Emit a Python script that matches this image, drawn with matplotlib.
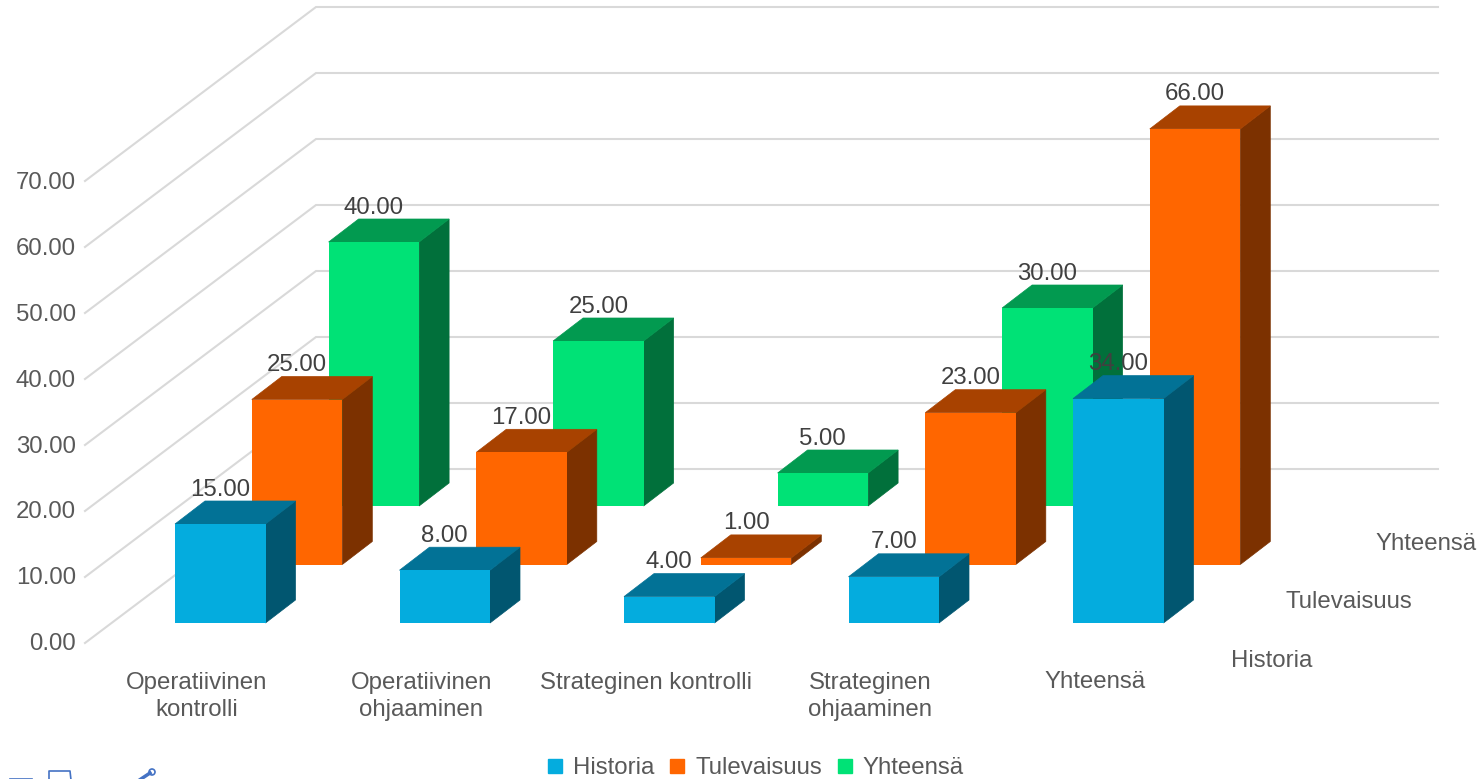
import matplotlib
matplotlib.use("Agg")
import matplotlib.pyplot as plt
from matplotlib.patches import Patch, Circle

plt.rcParams["font.family"] = ["Liberation Sans", "DejaVu Sans"]

categories = ["Operatiivinen\nkontrolli", "Operatiivinen\nohjaaminen", "Strateginen kontrolli",
              "Strateginen\nohjaaminen", "Yhteensä"]
series_names = ["Historia", "Tulevaisuus", "Yhteensä"]
historia = [15, 8, 4, 7, 34]
tulevaisuus = [25, 17, 1, 23, 66]
yhteensa = [40, 25, 5, 30]  # no bar for the last category
y_ticks = [0, 10, 20, 30, 40, 50, 60, 70]

# front, top, side
colors = {
    "Historia": ("#04ACDE", "#027296", "#015670"),
    "Tulevaisuus": ("#FF6600", "#A84200", "#7C3100"),
    "Yhteensä": ("#00E276", "#029A50", "#01703B"),
}

# oblique projection, all in pixels of the 1484x779 image
X0 = 175.0
Y0 = 623.0
CAT_STEP = 224.5
BAR_W = 90.5
SERIES_DX = 76.8
SERIES_DY = -58.5
DEPTH_DX = 30.0
DEPTH_DY = -23.0
PX_PER_UNIT = 6.6
WALL_X = 316.0
WALL_RIGHT = 1438.0
WALL_Y0 = 469.0
WALL_DX = -231.0
WALL_DY = 174.0
GRID_STEP = 66.0

TICK_COLOR = "#595959"
LABEL_COLOR = "#404040"
FONT = 17.3


def draw_bar(ax, cat, ser, value, cols, z):
    left = X0 + cat * CAT_STEP + ser * SERIES_DX
    right = left + BAR_W
    base = Y0 + ser * SERIES_DY
    top = base - value * PX_PER_UNIT
    front, lid, side = cols
    ax.fill([right, right + DEPTH_DX, right + DEPTH_DX, right],
            [base, base + DEPTH_DY, top + DEPTH_DY, top],
            color=side, lw=0.5, zorder=z)
    ax.fill([left, right, right + DEPTH_DX, left + DEPTH_DX],
            [top, top, top + DEPTH_DY, top + DEPTH_DY],
            color=lid, lw=0.5, zorder=z)
    ax.fill([left, right, right, left], [base, base, top, top],
            color=front, lw=0, zorder=z + 0.5)
    ax.text((left + right) / 2, top + DEPTH_DY - 11.5, f"{value:.2f}",
            ha="center", va="center", fontsize=FONT, color=LABEL_COLOR, zorder=50)


def main():
    fig = plt.figure(figsize=(14.84, 7.79), dpi=100)
    ax = fig.add_axes([0, 0, 1, 1])
    ax.set_xlim(0, 1484)
    ax.set_ylim(779, 0)
    ax.axis("off")

    # walls
    for tick in y_ticks:
        y = WALL_Y0 - tick / 10 * GRID_STEP
        ax.plot([WALL_X + WALL_DX, WALL_X, WALL_RIGHT], [y + WALL_DY, y, y],
                color="#D9D9D9", lw=1.5, zorder=1, solid_joinstyle="miter")
        ax.text(76, y + WALL_DY + 1.5, f"{tick:.2f}", ha="right", va="center",
                fontsize=FONT, color=TICK_COLOR)

    # back row first
    all_series = [historia, tulevaisuus, yhteensa]
    for ser in [2, 1, 0]:
        cols = colors[series_names[ser]]
        for cat, value in enumerate(all_series[ser]):
            draw_bar(ax, cat, ser, value, cols, 10 + (2 - ser) * 5 + cat * 0.1)

    for cat, label in enumerate(categories):
        ax.text(X0 + cat * CAT_STEP + 21.7, 671.5, label, ha="center", va="top",
                fontsize=FONT, color=TICK_COLOR, linespacing=1.32)

    # series names along the depth axis
    for ser, name in enumerate(series_names):
        ax.text(1272 + ser * 77, 661 + ser * SERIES_DY, name, ha="center", va="center",
                fontsize=FONT, color=TICK_COLOR)

    handles = [Patch(color=colors[name][0], label=name) for name in series_names]
    leg = fig.legend(handles=handles, loc="center", ncol=3, frameon=False,
                     bbox_to_anchor=(756 / 1484, 1 - 768.5 / 779), fontsize=FONT,
                     handlelength=0.58, handleheight=0.58, handletextpad=0.45,
                     columnspacing=0.68, borderpad=0, borderaxespad=0)
    for text in leg.get_texts():
        text.set_color(TICK_COLOR)

    # toolbar icons cut off by the bottom edge
    icon = "#4472C4"
    ax.plot([10, 32], [778.5, 778.5], color=icon, lw=1.2, clip_on=True)
    ax.plot([49, 49, 70, 71], [780, 771, 771, 780], color=icon, lw=1.2)
    ax.plot([138, 150], [781, 773], color=icon, lw=2.5)
    ax.add_patch(Circle((152, 772), 3, fill=False, ec=icon, lw=1.2))

    fig.savefig("out.png", dpi=100)
    plt.close(fig)


if __name__ == "__main__":
    main()
